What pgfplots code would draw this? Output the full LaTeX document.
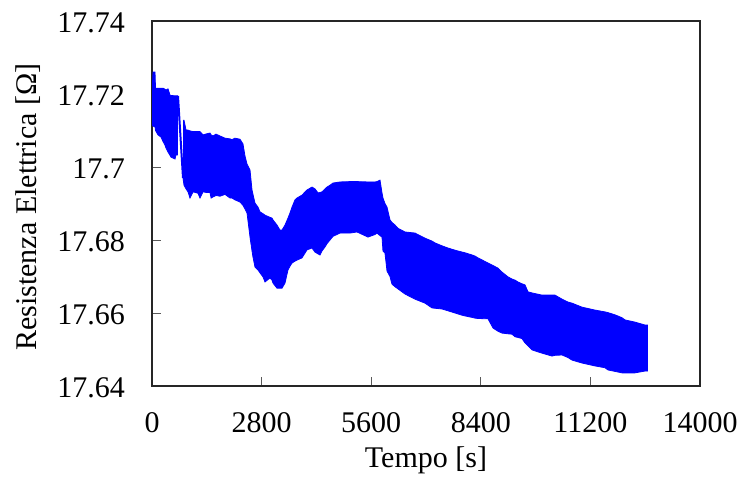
\documentclass[border=0pt]{standalone}
\usepackage{fontspec}
\setmainfont{Liberation Serif}
\usepackage{pgfplots}
\usepackage{pgfplotstable}
\pgfplotsset{compat=1.18}
\usepgfplotslibrary{fillbetween}

% Envelope of the resistance signal: upper (hi) and lower (lo) bounds, first stage
\pgfplotstableread{
t hi lo
0 17.7200 17.7115
26 17.7260 17.7112
77 17.7260 17.7110
90 17.7216 17.7100
153 17.7216 17.7088
230 17.7216 17.7082
281 17.7216 17.7070
332 17.7213 17.7060
358 17.7211 17.7052
409 17.7214 17.7041
460 17.7197 17.7032
485 17.7196 17.7027
588 17.7195 17.7022
613 17.7195 17.7033
664 17.7195 17.7033
}\stageA

% Step between the two stages
\pgfplotstableread{
t R
664 17.7195
792 17.6970
}\stepAB

% Envelope of the resistance signal, remainder of the test
\pgfplotstableread{
t hi lo
792 17.7128 17.6970
818 17.7128 17.6950
870 17.7101 17.6940
920 17.7101 17.6932
970 17.7099 17.6915
1050 17.7097 17.6932
1175 17.7097 17.6928
1226 17.7097 17.6915
1303 17.7088 17.6932
1400 17.7091 17.6930
1482 17.7093 17.6930
1510 17.7088 17.6915
1558 17.7085 17.6918
1635 17.7090 17.6922
1737 17.7085 17.6920
1865 17.7079 17.6925
1993 17.7077 17.6915
2044 17.7075 17.6915
2120 17.7079 17.6910
2248 17.7076 17.6904
2325 17.7063 17.6895
2376 17.7030 17.6885
2427 17.7008 17.6874
2504 17.6992 17.6808
2555 17.6937 17.6770
2580 17.6925 17.6753
2631 17.6901 17.6726
2708 17.6890 17.6718
2759 17.6877 17.6710
2836 17.6872 17.6699
2887 17.6868 17.6685
3015 17.6862 17.6696
3066 17.6860 17.6690
3091 17.6855 17.6682
3193 17.6841 17.6668
3270 17.6827 17.6668
3321 17.6827 17.6668
3398 17.6841 17.6682
3474 17.6860 17.6718
3525 17.6874 17.6728
3577 17.6890 17.6737
3653 17.6910 17.6742
3704 17.6915 17.6745
3832 17.6923 17.6751
3960 17.6937 17.6773
4088 17.6945 17.6778
4164 17.6940 17.6767
4241 17.6929 17.6762
4292 17.6930 17.6759
4343 17.6932 17.6770
4420 17.6940 17.6781
4471 17.6945 17.6790
4547 17.6950 17.6800
4624 17.6956 17.6810
4803 17.6959 17.6819
5058 17.6960 17.6819
5237 17.6960 17.6822
5518 17.6959 17.6808
5697 17.6959 17.6815
5748 17.6960 17.6819
5825 17.6964 17.6812
5876 17.6929 17.6808
5901 17.6915 17.6770
5952 17.6900 17.6764
6004 17.6890 17.6715
6080 17.6855 17.6700
6131 17.6848 17.6679
6208 17.6841 17.6672
6285 17.6832 17.6666
6463 17.6822 17.6652
6719 17.6819 17.6638
6974 17.6805 17.6627
7153 17.6797 17.6614
7230 17.6792 17.6613
7409 17.6784 17.6611
7562 17.6778 17.6606
7741 17.6772 17.6600
7920 17.6767 17.6594
7996 17.6765 17.6592
8175 17.6759 17.6588
8252 17.6756 17.6586
8328 17.6751 17.6585
8584 17.6737 17.6584
8712 17.6730 17.6559
8839 17.6723 17.6550
8942 17.6712 17.6545
9095 17.6699 17.6543
9197 17.6693 17.6542
9274 17.6690 17.6535
9350 17.6685 17.6533
9452 17.6680 17.6530
9529 17.6677 17.6518
9606 17.6658 17.6510
9708 17.6655 17.6499
9963 17.6649 17.6490
10219 17.6649 17.6482
10295 17.6649 17.6484
10474 17.6638 17.6485
10627 17.6630 17.6478
10730 17.6627 17.6471
10985 17.6616 17.6463
11317 17.6608 17.6455
11573 17.6603 17.6450
11650 17.6601 17.6444
11828 17.6595 17.6440
12008 17.6587 17.6436
12084 17.6581 17.6436
12340 17.6575 17.6436
12595 17.6567 17.6441
12671 17.6567 17.6441
}\stageB

\begin{document}
\fontsize{30bp}{36bp}\selectfont
\begin{tikzpicture}
\begin{axis}[
  at={(0,0)}, anchor=south west,
  scale only axis, width=548bp, height=365bp,
  xmin=0, xmax=14000, ymin=17.64, ymax=17.74,
  scaled x ticks=false, scaled y ticks=false,
  xtick={0,2800,5600,8400,11200,14000},
  xticklabels={0,2800,5600,8400,11200,14000},
  ytick={17.64,17.66,17.68,17.70,17.72,17.74},
  yticklabels={17.64,17.66,17.68,17.7,17.72,17.74},
  tick align=inside, tick pos=left, major tick length=9bp,
  axis line style={line width=1.2bp, black!85},
  tick style={line width=0.8bp, black!65},
  xticklabel style={anchor=north, inner sep=0pt, yshift=-26bp},
  yticklabel style={anchor=east, inner sep=0pt, xshift=-27bp, yshift=-2bp},
  xlabel={Tempo [s]},
  xlabel style={at={(axis description cs:0.5,-0.222)}, anchor=base, inner sep=0pt},
  ylabel={Resistenza Elettrica [Ω]},
  ylabel style={at={(axis description cs:-0.21,0.49)}, anchor=base, inner sep=0pt},
]
\addplot[name path=hiA, blue, line width=0.8bp] table[x=t, y=hi] {\stageA};
\addplot[name path=loA, blue, line width=0.8bp] table[x=t, y=lo] {\stageA};
\addplot[blue] fill between[of=hiA and loA];
\addplot[blue, line width=2bp] table[x=t, y=R] {\stepAB};
\addplot[name path=hiB, blue, line width=0.8bp] table[x=t, y=hi] {\stageB};
\addplot[name path=loB, blue, line width=0.8bp] table[x=t, y=lo] {\stageB};
\addplot[blue] fill between[of=hiB and loB];
\end{axis}
% overall canvas of the figure
\path (-152bp,-93bp) rectangle (592bp,386bp);
\end{tikzpicture}
\end{document}
